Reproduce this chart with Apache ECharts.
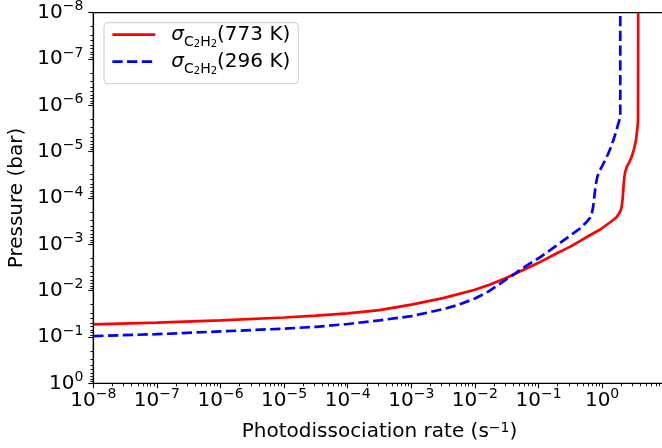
<!DOCTYPE html>
<html><head><meta charset="utf-8">
<script src="https://cdn.jsdelivr.net/npm/echarts@6/dist/echarts.min.js"></script>
<style>html,body{margin:0;padding:0;background:#fff}#c{width:662px;height:448px}</style>
</head><body><div id="c"></div>
<script>
// Photodissociation rate (s^-1) vs pressure (bar) for sigma_C2H2 at 773 K
const rateHot = [1e-8, 1e-7, 1e-6, 1e-5, 3.16e-5, 1e-4, 3.16e-4, 1e-3, 3.16e-3, 0.01, 0.0178, 0.0316, 0.0562, 0.1, 0.178, 0.316, 0.447, 0.631, 0.933, 1.26, 1.51, 1.70, 1.86, 1.97, 2.03, 2.11, 2.15, 2.19, 2.24, 2.32, 2.44, 2.69, 2.92, 3.16, 3.41, 3.55, 3.65, 3.67, 3.69];
const presHot = [0.0537, 0.049, 0.0437, 0.038, 0.0347, 0.0309, 0.0263, 0.02, 0.0145, 0.00955, 0.00724, 0.00525, 0.00363, 0.00251, 0.00166, 0.00112, 0.000851, 0.000646, 0.000479, 0.000355, 0.000295, 0.000257, 0.000214, 0.000182, 0.000155, 0.0001, 6.76e-5, 4.79e-5, 3.47e-5, 2.69e-5, 2.14e-5, 1.66e-5, 1.29e-5, 8.91e-6, 5.62e-6, 3.55e-6, 2.4e-6, 1.78e-6, 1e-8];
// ... and at 296 K
const rateCold = [1e-8, 1e-7, 1e-6, 1e-5, 3.16e-5, 1e-4, 3.16e-4, 1e-3, 3.16e-3, 5.62e-3, 0.01, 0.0158, 0.0219, 0.0316, 0.0427, 0.0631, 0.1, 0.158, 0.245, 0.398, 0.447, 0.55, 0.646, 0.692, 0.724, 0.75, 0.776, 0.803, 0.841, 0.902, 0.986, 1.12, 1.25, 1.38, 1.50, 1.66, 1.80, 1.91, 1.93, 1.93];
const presCold = [0.0955, 0.0871, 0.0759, 0.0661, 0.0603, 0.0525, 0.0437, 0.0355, 0.0251, 0.02, 0.0148, 0.0107, 0.00794, 0.00562, 0.00427, 0.00295, 0.002, 0.00129, 0.000832, 0.000513, 0.000457, 0.000347, 0.000269, 0.000209, 0.000155, 0.0001, 6.76e-5, 4.79e-5, 3.47e-5, 2.69e-5, 2.14e-5, 1.51e-5, 1.10e-5, 7.94e-6, 5.62e-6, 3.72e-6, 2.45e-6, 1.91e-6, 1.66e-6, 1e-8];
const seriesNames = ['773 K', '296 K'];
const xRange = [1e-8, 10];
const yRange = [1e-8, 1];

const FONT = 'DejaVu Sans';
// minor tick positions (log10 of 2..9 x 10^n), used only for tick marks
function minorLogPositions(lo, hi) {
  const out = [];
  for (let n = lo; n < hi; n++) for (let k = 2; k <= 9; k++) out.push(n + Math.log10(k));
  return out;
}
function supText(e) { return e < 0 ? '\u2212' + (-e) : String(e); }
function decadeLabel(v) {
  const l = Math.log10(v), e = Math.round(l);
  if (Math.abs(l - e) > 1e-6 || e > 0) return '';
  return '{b|10}{s|' + supText(e) + '}';
}
const tickRich = {
  b: { fontFamily: FONT, fontSize: 20, color: '#000', lineHeight: 26, verticalAlign: 'middle' },
  s: { fontFamily: FONT, fontSize: 14, color: '#000', lineHeight: 14, verticalAlign: 'top' }
};
const AX = '#000';
const legendText = {
  '773 K': '{sp| }{sig|σ}{c|C}{n|2}{c|H}{n|2}{t|(773 K)}',
  '296 K': '{sp| }{sig|σ}{c|C}{n|2}{c|H}{n|2}{t|(296 K)}'
};

const chart = echarts.init(document.getElementById('c'), null, { renderer: 'canvas' });
chart.setOption({
  animation: false,
  backgroundColor: '#fff',
  grid: { left: 93.3, top: 12.7, right: -3.7, bottom: 64.7, outerBoundsMode: 'none', containLabel: false,
    show: true, borderColor: AX, borderWidth: 1.2, backgroundColor: 'transparent' },
  legend: {
    data: seriesNames,
    orient: 'vertical', left: 104, top: 22.7,
    itemWidth: 43, itemHeight: 14, itemGap: 2,
    padding: [2, 8, 7, 7],
    backgroundColor: 'rgba(255,255,255,0.8)', borderColor: '#cccccc', borderWidth: 1, borderRadius: 4,
    itemStyle: { opacity: 0 },
    lineStyle: { width: 2.7 },
    formatter: n => legendText[n],
    textStyle: {
      fontFamily: FONT, fontSize: 20, color: '#000',
      rich: {
        sp: { width: 11, fontSize: 20, lineHeight: 30 },
        sig: { fontFamily: FONT, fontStyle: 'italic', fontSize: 20, color: '#000', lineHeight: 30, verticalAlign: 'middle' },
        c: { fontFamily: FONT, fontSize: 14, color: '#000', lineHeight: 18, verticalAlign: 'bottom' },
        n: { fontFamily: FONT, fontSize: 10, color: '#000', lineHeight: 12, verticalAlign: 'bottom' },
        t: { fontFamily: FONT, fontSize: 20, color: '#000', lineHeight: 30, verticalAlign: 'middle' }
      }
    }
  },
  xAxis: [
    {
      type: 'log', logBase: 10, min: xRange[0], max: xRange[1], interval: 1, position: 'bottom',
      axisLine: { onZero: false, lineStyle: { color: AX, width: 1.2 } },
      axisTick: { inside: false, length: 5, lineStyle: { color: AX, width: 1.1 } },
      axisLabel: { formatter: decadeLabel, rich: tickRich, margin: 4.5, showMinLabel: true, showMaxLabel: true, hideOverlap: false },
      splitLine: { show: false },
      name: 'Photodissociation rate (s{s|\u22121})', nameLocation: 'middle', nameGap: 38,
      nameTextStyle: { fontFamily: FONT, fontSize: 20, color: '#000', verticalAlign: 'top',
        rich: { s: { fontFamily: FONT, fontSize: 14, color: '#000', lineHeight: 14, verticalAlign: 'top' } } }
    },
    {
      type: 'value', min: -8, max: 1, position: 'bottom',
      axisLine: { show: false, onZero: false },
      axisTick: { inside: false, length: 3, lineStyle: { color: AX, width: 0.9 }, customValues: minorLogPositions(-8, 1) },
      axisLabel: { show: false }, splitLine: { show: false }
    }
  ],
  yAxis: [
    {
      type: 'log', logBase: 10, min: yRange[0], max: yRange[1], interval: 1, inverse: true, position: 'left',
      axisLine: { onZero: false, lineStyle: { color: AX, width: 1.2 } },
      axisTick: { inside: false, length: 5, lineStyle: { color: AX, width: 1.1 } },
      axisLabel: { formatter: decadeLabel, rich: tickRich, margin: 10, showMinLabel: true, showMaxLabel: true, hideOverlap: false },
      splitLine: { show: false },
      name: 'Pressure (bar)', nameLocation: 'middle', nameGap: 66, nameRotate: 90,
      nameTextStyle: { fontFamily: FONT, fontSize: 20, color: '#000' }
    },
    {
      type: 'value', min: -8, max: 0, inverse: true, position: 'left',
      axisLine: { show: false, onZero: false },
      axisTick: { inside: false, length: 3, lineStyle: { color: AX, width: 0.9 }, customValues: minorLogPositions(-8, 0) },
      axisLabel: { show: false }, splitLine: { show: false }
    }
  ],
  series: [
    {
      name: seriesNames[0], type: 'line', xAxisIndex: 0, yAxisIndex: 0,
      data: rateHot.map((r, i) => [r, presHot[i]]),
      showSymbol: false, symbol: 'none', smooth: false,
      lineStyle: { color: '#ff0000', width: 2.7, type: 'solid' }, itemStyle: { color: '#ff0000' }
    },
    {
      name: seriesNames[1], type: 'line', xAxisIndex: 0, yAxisIndex: 0,
      data: rateCold.map((r, i) => [r, presCold[i]]),
      showSymbol: false, symbol: 'none', smooth: false,
      lineStyle: { color: '#0000ff', width: 2.7, type: [10.3, 4.45] }, itemStyle: { color: '#0000ff' }
    }
  ]
});
</script>
</body></html>
